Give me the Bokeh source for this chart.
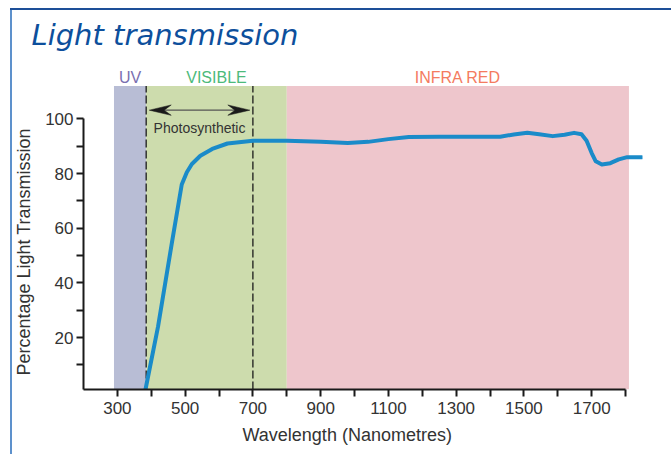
from bokeh.plotting import figure
from bokeh.models import Range1d, FixedTicker, Label, ColumnDataSource, Styles, Title
from bokeh.embed import file_html
from bokeh.resources import INLINE

# ---------------- data ----------------
band_names = ["UV", "VISIBLE", "INFRA RED"]
band_start = [290, 385, 800]
band_end = [385, 800, 1810]
band_fill = ["#b8bdd5", "#cddcad", "#eec6cc"]
band_text_color = ["#7a6fb0", "#4cba7b", "#f47b60"]

photo_range = [385, 700]
photo_label = "Photosynthetic"

wavelength = [383, 420, 460, 490, 505, 520, 545, 580, 625, 700, 800, 900, 980,
              1040, 1100, 1160, 1250, 1350, 1430, 1470, 1510, 1545, 1585, 1620,
              1648, 1670, 1685, 1700, 1712, 1730, 1755, 1780, 1805, 1848]
transmission = [1, 24, 54, 76, 80.5, 83.5, 86.5, 89, 91, 92, 92, 91.6, 91.2,
                91.6, 92.6, 93.4, 93.5, 93.5, 93.5, 94.3, 94.9, 94.4, 93.7, 94.2,
                94.9, 94.4, 92, 87.5, 84.5, 83.3, 83.8, 85.2, 86, 86]

x_tick_values = [300, 400, 500, 600, 700, 800, 900, 1000, 1100, 1200, 1300,
                 1400, 1500, 1600, 1700, 1800]
x_tick_labels = ["300", "", "500", "", "700", "", "900", "", "1100", "",
                 "1300", "", "1500", "", "1700", ""]
y_tick_values = [10, 20, 30, 40, 50, 60, 70, 80, 90, 100]
y_tick_labels = ["", "20", "", "40", "", "60", "", "80", "", "100"]

title_text = "Light transmission"
x_label = "Wavelength (Nanometres)"
y_label = "Percentage Light Transmission"

# ---------------- figure ----------------
X0, X1 = 200, 1850
Y0, Y1 = 1, 122.1
BAND_TOP = 112

p = figure(width=671, height=454, x_range=Range1d(X0, X1), y_range=Range1d(Y0, Y1),
           output_backend="svg", toolbar_location=None,
           min_border_left=83, min_border_right=29, min_border_top=58,
           min_border_bottom=63)
p.outline_line_color = None
p.grid.visible = False
p.background_fill_color = "white"
p.border_fill_alpha = 0
p.styles = Styles(
    background_color="white",
    background_image="linear-gradient(#1d4f98, #1d4f98), linear-gradient(#5d91cc, #5d91cc)",
    background_size="100% 2px, 2px 100%",
    background_position="10px 8px, 10px 8px",
    background_repeat="no-repeat",
)

# title
p.title.text = title_text
p.title.text_font = "DejaVu Sans"
p.title.text_font_style = "italic"
p.title.text_font_size = "29px"
p.title.text_color = "#0d4f9c"
p.title.align = "left"
p.title.offset = -52
p.title.standoff = 14

# bands
bands = ColumnDataSource(dict(left=band_start, right=band_end, fill=band_fill))
p.quad(left="left", right="right", bottom=Y0, top=BAND_TOP, fill_color="fill",
       line_color=None, source=bands)

for name, s, e, c in zip(band_names, band_start, band_end, band_text_color):
    p.add_layout(Label(x=(s + e) / 2, y=115.2, text=name, text_align="center",
                       text_baseline="alphabetic", text_font="Liberation Sans",
                       text_font_size="16px", text_color=c))

# photosynthetic range dashed lines
p.segment(x0=photo_range, y0=[Y0, Y0], x1=photo_range, y1=[BAND_TOP, BAND_TOP],
          line_color="#1a1a1a", line_width=1.3, line_dash="8 3")

# double arrow
ya = 103.2
inset = 9
head_len = 65
notch = 44
hw = 1.9
xl = photo_range[0] + inset
xr = photo_range[1] - inset
p.segment(x0=[xl + notch], y0=[ya], x1=[xr - notch], y1=[ya],
          line_color="#555555", line_width=1.2)
p.patches(xs=[[xl, xl + head_len, xl + notch, xl + head_len],
              [xr, xr - head_len, xr - notch, xr - head_len]],
          ys=[[ya, ya + hw, ya, ya - hw], [ya, ya + hw, ya, ya - hw]],
          fill_color="#1a1a1a", line_color="#1a1a1a", line_width=0.5)
p.add_layout(Label(x=sum(photo_range) / 2, y=96.5, text=photo_label,
                   text_align="center", text_baseline="alphabetic",
                   text_font="Liberation Sans", text_font_size="14px",
                   text_color="#333333"))

# curve
p.line(wavelength, transmission, line_color="#1a8bc9", line_width=4,
       line_cap="round", line_join="round")

# axes
for ax in (p.xaxis[0], p.yaxis[0]):
    ax.axis_line_color = "#1a1a1a"
    ax.axis_line_width = 2
    ax.major_tick_line_color = "#1a1a1a"
    ax.major_tick_line_width = 2
    ax.major_tick_out = 7
    ax.major_tick_in = 0
    ax.minor_tick_out = 0
    ax.minor_tick_in = 0
    ax.major_label_text_font = "Liberation Sans"
    ax.major_label_text_font_size = "17px"
    ax.major_label_text_color = "#333333"

p.xaxis.ticker = FixedTicker(ticks=x_tick_values)
p.xaxis.major_label_overrides = dict(zip(x_tick_values, x_tick_labels))
p.xaxis.bounds = (X0, 1800)
p.xaxis.major_label_standoff = 5

p.yaxis.ticker = FixedTicker(ticks=y_tick_values)
p.yaxis.major_label_overrides = dict(zip(y_tick_values, y_tick_labels))
p.yaxis.bounds = (Y0, 100)
p.yaxis.major_label_standoff = 3

# axis titles (placed to match the original: aligned to the axis lines)
p.add_layout(Title(text=x_label, align="left", offset=159, vertical_align="top",
                   standoff=16, text_font="Liberation Sans", text_font_size="18px",
                   text_font_style="normal", text_color="#333333"), "below")
p.add_layout(Title(text=y_label, align="left", offset=14, vertical_align="bottom",
                   standoff=17, text_font="Liberation Sans", text_font_size="18px",
                   text_font_style="normal", text_color="#333333"), "left")

open("out.html", "w").write(file_html(p, INLINE))
